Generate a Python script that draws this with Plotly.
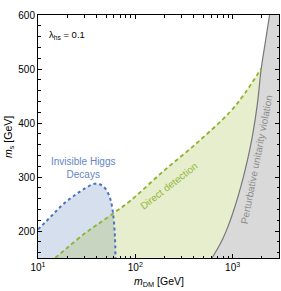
import plotly.graph_objects as go

# Invisible Higgs decays boundary (blue, dotted)
blue_x = [10, 12, 14.3, 17, 21, 26, 31, 36, 40, 45, 50, 54, 56.6, 58.5, 59.9, 61, 61.7, 62.3, 62.6]
blue_y = [203, 217, 231, 245, 259, 271, 280, 286, 288, 285, 277, 265, 253, 238, 222, 205, 191, 170, 150]

# Direct detection boundary (green, dashed)
green_x = [15, 20, 31, 40, 57.7, 89, 195, 430, 946, 1350, 1970]
green_y = [150, 169, 197, 211, 231, 256, 311, 363, 421, 456, 501]

# Perturbative unitarity boundary (gray, solid)
gray_x = [614, 700, 800, 900, 1000, 1150, 1300, 1450, 1600, 1800, 1970, 2150, 2400, 2700]
gray_y = [150, 167, 187, 209, 232, 267, 302, 338, 376, 436, 501, 545, 600, 660]

x_ticks = [10, 100, 1000]
x_ticktext = ["10<sup>1</sup>", "10<sup>2</sup>", "10<sup>3</sup>"]
y_ticks = [200, 300, 400, 500, 600]

y_min, y_max = 150, 600
x_left, x_right = 10, 3000
x_range = [1, 3.4771]

fig = go.Figure()

# blue filled region
fig.add_trace(go.Scatter(
    x=[x_left] + blue_x + [blue_x[-1], x_left],
    y=[y_min] + blue_y + [y_min, y_min],
    fill="toself", fillcolor="rgba(95,130,190,0.26)",
    line=dict(width=0), mode="lines", hoverinfo="skip", showlegend=False))

# green filled region: under green line, left of the gray boundary
g_bound_x = [x for x, y in zip(gray_x, gray_y) if y <= green_y[-1]]
g_bound_y = [y for y in gray_y if y <= green_y[-1]]
fig.add_trace(go.Scatter(
    x=green_x + g_bound_x[::-1] + [green_x[0]],
    y=green_y + g_bound_y[::-1] + [y_min],
    fill="toself", fillcolor="rgba(150,185,50,0.24)",
    line=dict(width=0), mode="lines", hoverinfo="skip", showlegend=False))

# gray filled region
fig.add_trace(go.Scatter(
    x=gray_x + [5000, 5000, gray_x[0]],
    y=gray_y + [gray_y[-1], y_min, y_min],
    fill="toself", fillcolor="rgb(217,217,217)",
    line=dict(width=0), mode="lines", hoverinfo="skip", showlegend=False))

# boundary lines
fig.add_trace(go.Scatter(x=gray_x, y=gray_y, mode="lines", line_shape="spline",
                         line=dict(color="rgb(120,120,120)", width=1.2),
                         hoverinfo="skip", showlegend=False))
fig.add_trace(go.Scatter(x=green_x, y=green_y, mode="lines", line_shape="spline",
                         line=dict(color="rgb(140,180,45)", width=1.8, dash="4px,3px"),
                         hoverinfo="skip", showlegend=False))
fig.add_trace(go.Scatter(x=blue_x, y=blue_y, mode="lines", line_shape="spline",
                         line=dict(color="rgb(75,115,190)", width=2, dash="dot"),
                         hoverinfo="skip", showlegend=False))

# invisible trace to carry the mirrored (top/right) tick axes
fig.add_trace(go.Scatter(x=[x_left], y=[y_min], xaxis="x2", yaxis="y2", mode="markers",
                         marker=dict(opacity=0), hoverinfo="skip", showlegend=False))

font_family = "Liberation Sans, Arial, sans-serif"

common = dict(ticks="inside", ticklen=4, tickwidth=1, tickcolor="black",
              showline=True, linecolor="black", linewidth=1,
              showgrid=False, zeroline=False, automargin=False)

fig.update_layout(
    width=281, height=291,
    margin=dict(l=38, r=2, t=15, b=33),
    plot_bgcolor="white", paper_bgcolor="white",
    font=dict(family=font_family, size=10, color="black"),
    xaxis=dict(
        type="log", range=x_range, tickvals=x_ticks, ticktext=x_ticktext,
        minor=dict(ticks="inside", ticklen=2.5, dtick="D1", tickcolor="black", showgrid=False),
        tickfont=dict(size=10), **common,
    ),
    xaxis2=dict(
        type="log", range=x_range, tickvals=x_ticks, overlaying="x", side="top",
        showticklabels=False, anchor="y",
        minor=dict(ticks="inside", ticklen=2.5, dtick="D1", tickcolor="black", showgrid=False),
        **common,
    ),
    yaxis=dict(
        range=[y_min, y_max], tickvals=y_ticks,
        minor=dict(ticks="inside", ticklen=2.5, dtick=20, tick0=0, tickcolor="black", showgrid=False),
        tickfont=dict(size=10), **common,
    ),
    yaxis2=dict(
        range=[y_min, y_max], tickvals=y_ticks, overlaying="y", side="right",
        showticklabels=False, anchor="x",
        minor=dict(ticks="inside", ticklen=2.5, dtick=20, tick0=0, tickcolor="black", showgrid=False),
        **common,
    ),
    annotations=[
        dict(text="<i>m</i><sub>DM</sub> [GeV]", xref="paper", yref="paper",
             x=0.5, y=(258 - 282) / 243, xanchor="center", yanchor="middle",
             showarrow=False, font=dict(size=10.5)),
        dict(text="<i>m</i><sub>s</sub> [GeV]", xref="paper", yref="paper",
             x=(9 - 38) / 241, y=(258 - 137) / 243, xanchor="center", yanchor="middle",
             textangle=-90, showarrow=False, font=dict(size=10.5)),
        dict(text="λ<sub>hs</sub> = 0.1", xref="paper", yref="paper",
             x=0.037, y=0.918, xanchor="left", yanchor="middle", showarrow=False,
             font=dict(size=9.5, color="black")),
        dict(text="Invisible Higgs<br>Decays", xref="paper", yref="paper",
             x=(83 - 38) / 241, y=(258 - 168) / 243, xanchor="center", yanchor="middle",
             showarrow=False, font=dict(size=10, color="rgb(100,135,195)")),
        dict(text="Direct detection", xref="paper", yref="paper",
             x=(168 - 38) / 241, y=(258 - 186) / 243, xanchor="center", yanchor="middle",
             textangle=-38, showarrow=False, font=dict(size=10, color="rgb(150,185,60)")),
        dict(text="Perturbative unitarity violation", xref="paper", yref="paper",
             x=(256 - 38) / 241, y=(258 - 160) / 243, xanchor="center", yanchor="middle",
             textangle=-79, showarrow=False, font=dict(size=10, color="rgb(140,140,140)")),
    ],
)

fig.write_html("out.html", config={"displayModeBar": False},
               post_script="document.body.style.margin='0px';")
